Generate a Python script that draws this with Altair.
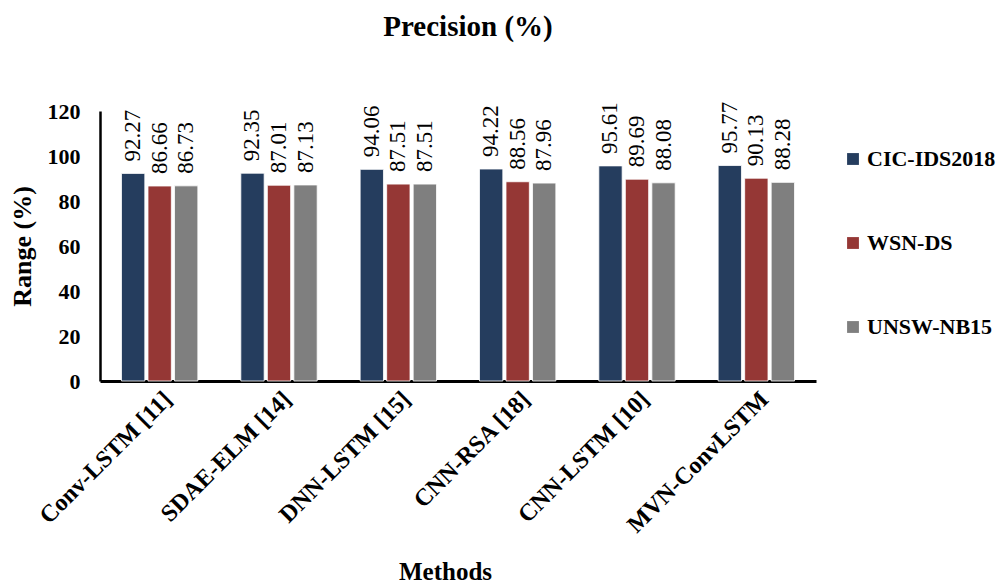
import altair as alt
import pandas as pd

methods = ["Conv-LSTM [11]", "SDAE-ELM [14]", "DNN-LSTM [15]", "CNN-RSA [18]", "CNN-LSTM [10]", "MVN-ConvLSTM"]
datasets = ["CIC-IDS2018", "WSN-DS", "UNSW-NB15"]
cic = [92.27, 92.35, 94.06, 94.22, 95.61, 95.77]
wsn = [86.66, 87.01, 87.51, 88.56, 89.69, 90.13]
unsw = [86.73, 87.13, 87.51, 87.96, 88.08, 88.28]
y_ticks = [0, 20, 40, 60, 80, 100, 120]
colors = ["#253D5E", "#953735", "#7F7F7F"]

rows = []
for ds, vals in zip(datasets, [cic, wsn, unsw]):
    for m, v in zip(methods, vals):
        rows.append({"Method": m, "Dataset": ds, "Value": v, "Label": f"{v:.2f}"})
df = pd.DataFrame(rows)

FONT = "'Liberation Serif', 'Times New Roman', 'DejaVu Serif', serif"

x_enc = alt.X(
    "Method:N", sort=methods,
    scale=alt.Scale(paddingInner=0.36, paddingOuter=0.18),
    axis=alt.Axis(
        title="Methods", labelAngle=-45, labelAlign="right", labelBaseline="top",
        labelFont=FONT, labelFontSize=24, labelFontWeight="bold", labelColor="black",
        labelPadding=6, labelLimit=500, ticks=False, domainColor="black", domainWidth=3,
        titleFont=FONT, titleFontSize=25, titleFontWeight="bold", titleColor="black",
        titleX=345, titleY=198, titleBaseline="alphabetic", titleAlign="center",
    ),
)
xo_enc = alt.XOffset("Dataset:N", sort=datasets, scale=alt.Scale(paddingInner=0.12, paddingOuter=0))
y_enc = alt.Y(
    "Value:Q",
    scale=alt.Scale(domain=[0, 120], nice=False),
    axis=alt.Axis(
        title="Range (%)", values=y_ticks, grid=False, ticks=False,
        labelFont=FONT, labelFontSize=22, labelFontWeight="bold", labelColor="black",
        labelPadding=20, domainColor="black", domainWidth=2.5,
        titleFont=FONT, titleFontSize=26, titleFontWeight="bold", titleColor="black",
        titleAngle=-90, titleX=-78, titleY=135, titleBaseline="middle", titleAlign="center",
    ),
)
color_enc = alt.Color(
    "Dataset:N", sort=datasets,
    scale=alt.Scale(domain=datasets, range=colors),
    legend=alt.Legend(
        title=None, orient="none", legendX=742, legendY=37, direction="vertical",
        symbolType="square", symbolSize=140, symbolStrokeWidth=0, symbolOpacity=1,
        labelFont=FONT, labelFontSize=22, labelFontWeight="bold", labelColor="black",
        labelOffset=3, rowPadding=62,
    ),
)

bars = alt.Chart(df).mark_bar(stroke="white", strokeWidth=0.8).encode(
    x=x_enc, xOffset=xo_enc, y=y_enc, color=color_enc
)
text = alt.Chart(df).mark_text(
    angle=270, align="left", baseline="middle", dx=12,
    font=FONT, fontSize=23, color="black",
).encode(x=x_enc, xOffset=xo_enc, y=y_enc, text="Label:N")

chart = alt.layer(bars, text).properties(
    width=716, height=270,
    autosize=alt.AutoSizeParams(type="none"),
    padding={"left": 100, "top": 111, "right": 187, "bottom": 203},
    title=alt.Title("Precision (%)", font=FONT, fontSize=29, fontWeight="bold",
                    color="black", anchor="middle", dx=10, dy=-38, offset=20),
).configure_view(stroke=None)

chart.save("out.html", embed_options={"renderer": "svg", "actions": False})
